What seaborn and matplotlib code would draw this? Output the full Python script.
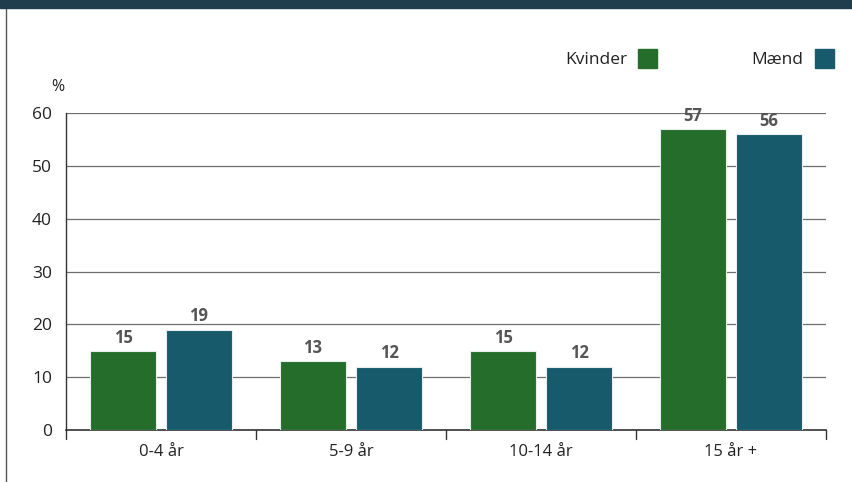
import matplotlib
matplotlib.use("Agg")
import matplotlib.pyplot as plt
from matplotlib.patches import Rectangle
from matplotlib.lines import Line2D
import seaborn as sns
import pandas as pd

categories = ["0-4 år", "5-9 år", "10-14 år", "15 år +"]
kvinder = [15, 13, 15, 57]
maend = [19, 12, 12, 56]
series = ["Kvinder", "Mænd"]
colors = ["#256d2b", "#165a6b"]
yticks = [0, 10, 20, 30, 40, 50, 60]

df = pd.DataFrame({
    "Alder": categories * 2,
    "Køn": [series[0]] * 4 + [series[1]] * 4,
    "Pct": kvinder + maend,
})

sns.set_style("white")
plt.rcParams["font.family"] = ["Open Sans", "DejaVu Sans"]

fig = plt.figure(figsize=(8.53, 4.82), dpi=100)
ax = fig.add_axes([66/853, 1-430/482, (826-66)/853, (430-113)/482])

sns.barplot(data=df, x="Alder", y="Pct", hue="Køn", palette=colors,
            saturation=1, width=0.8, gap=0.12, ax=ax, legend=False,
            edgecolor="#e8eef0", linewidth=0.8, zorder=3)

for c in ax.containers:
    ax.bar_label(c, fmt="%d", padding=3, fontsize=12, fontweight="bold",
                 color="#555555")

ax.set_ylim(0, 60)
ax.set_xlim(-0.5, 3.5)
ax.set_yticks(yticks)
ax.yaxis.grid(True, color="#6e6e6e", linewidth=0.9, zorder=0)
ax.set_axisbelow(True)
ax.set_xlabel("")
ax.set_ylabel("")
for s in ["top", "right"]:
    ax.spines[s].set_visible(False)
ax.spines["left"].set_color("#333333")
ax.spines["bottom"].set_color("#333333")
ax.spines["left"].set_linewidth(1.0)
ax.spines["bottom"].set_linewidth(1.2)
ax.tick_params(axis="y", length=0, labelsize=12.5, labelcolor="#222222", pad=10)
ax.tick_params(axis="x", length=0, labelsize=12, labelcolor="#222222", pad=10)
ax.set_xticks(range(len(categories)))
ax.set_xticklabels(categories)
for xb in [-0.5, 0.5, 1.5, 2.5, 3.5]:
    ax.plot([xb, xb], [0, -1.7], color="#333333", lw=1.0, clip_on=False)

fig.text(58/853, 1-87/482, "%", fontsize=11.5, color="#222222", va="center", ha="center")

fig.patches.append(Rectangle((0, 1-8/482), 1, 8/482, transform=fig.transFigure,
                             color="#1f3d4c", zorder=5))
fig.lines.append(Line2D([6/853, 6/853], [0, 1-8/482], transform=fig.transFigure,
                        color="#555555", lw=1.0))

leg_items = [(series[0], colors[0], 627, 638), (series[1], colors[1], 803, 815)]
for name, col, tx, sx in leg_items:
    fig.text(tx/853, 1-60/482, name, fontsize=12.5, color="#222222",
             ha="right", va="center")
    fig.patches.append(Rectangle((sx/853, 1-68/482), 19/853, 19/482,
                                 transform=fig.transFigure, color=col))

fig.savefig("out.png", dpi=100)
